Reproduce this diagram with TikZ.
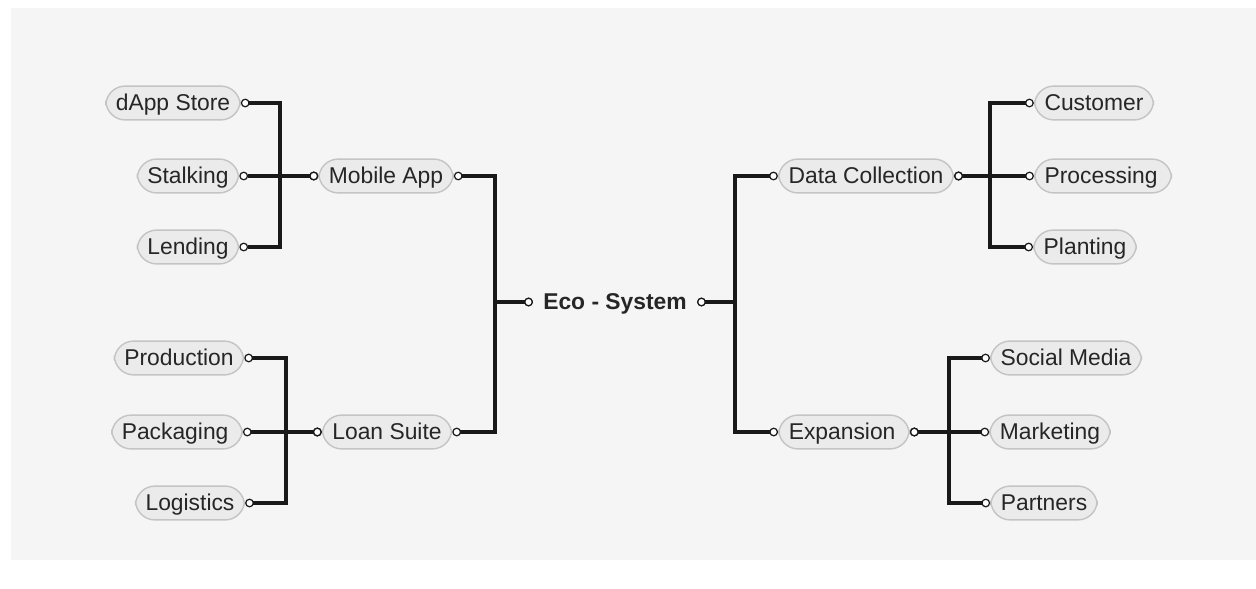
\documentclass[tikz,border=0pt]{standalone}
\usepackage{fontspec}
\setmainfont{Liberation Sans}
\usetikzlibrary{arrows.meta, positioning}

\definecolor{bggray}{HTML}{F5F5F5}
\definecolor{boxfill}{HTML}{EBEBEB}
\definecolor{boxline}{HTML}{C4C4C4}

\tikzset{
  dot/.tip = {Circle[open, length=5pt, width=5pt, line width=0.7pt, fill=white]}
}

\begin{document}
\begin{tikzpicture}
  [
    x = 0.02cm, y = -0.02cm,
    every node/.style = {font=\fontsize{13}{15}\selectfont, text=black!85,
      text height=10.4pt, text depth=2.2pt},
    topic/.style = {draw=boxline, fill=boxfill, line width=0.8pt,
      rounded corners=11pt, minimum height=0.66cm, inner xsep=0.2cm},
    root/.style = {font=\bfseries\fontsize{13}{15}\selectfont, inner xsep=0.2cm,
      minimum height=0.66cm},
    conn/.style = {line width=2.2pt, black!90, {dot}-{dot}}
  ]
  \fill[white] (0,0) rectangle (1256,588);
  \fill[bggray] (11,8) rectangle (1256,560);

  % centre
  \node[root] (Eco) at (615,302) {Eco - System};

  % left side
  \node[topic] (Mobile) at (386,176) {Mobile App};
  \node[topic] (Loan)   at (387,432) {Loan Suite};
  \node[topic] (dApp)     at (173,103) {dApp Store};
  \node[topic] (Stalking) at (188,176) {Stalking};
  \node[topic] (Lending)  at (188,247) {Lending};
  \node[topic] (Production) at (179,358) {Production};
  \node[topic] (Packaging)  at (177,432) {Packaging\,};
  \node[topic] (Logistics)  at (190,503) {Logistics};

  % right side
  \node[topic] (Data)      at (866,176) {Data Collection};
  \node[topic] (Expansion) at (844,432) {Expansion\,};
  \node[topic] (Customer)   at (1094,103) {Customer};
  \node[topic] (Processing) at (1103,176) {Processing\,};
  \node[topic] (Planting)   at (1085,247) {Planting};
  \node[topic] (Social)    at (1066,358) {Social Media};
  \node[topic] (Marketing) at (1050,432) {Marketing};
  \node[topic] (Partners)  at (1044,503) {Partners};

  \begin{scope}[conn]
    \draw (Eco.west) -- ++(-38,0) |- (Mobile.east);
    \draw (Eco.west) -- ++(-38,0) |- (Loan.east);
    \draw (Eco.east) -- ++(38,0) |- (Data.west);
    \draw (Eco.east) -- ++(38,0) |- (Expansion.west);

    \draw (Mobile.west) -- ++(-38,0) |- (dApp.east);
    \draw (Mobile.west) -- (Stalking.east);
    \draw (Mobile.west) -- ++(-38,0) |- (Lending.east);

    \draw (Loan.west) -- ++(-36,0) |- (Production.east);
    \draw (Loan.west) -- (Packaging.east);
    \draw (Loan.west) -- ++(-36,0) |- (Logistics.east);

    \draw (Data.east) -- ++(36,0) |- (Customer.west);
    \draw (Data.east) -- (Processing.west);
    \draw (Data.east) -- ++(36,0) |- (Planting.west);

    \draw (Expansion.east) -- ++(39,0) |- (Social.west);
    \draw (Expansion.east) -- (Marketing.west);
    \draw (Expansion.east) -- ++(39,0) |- (Partners.west);
  \end{scope}
\end{tikzpicture}
\end{document}
